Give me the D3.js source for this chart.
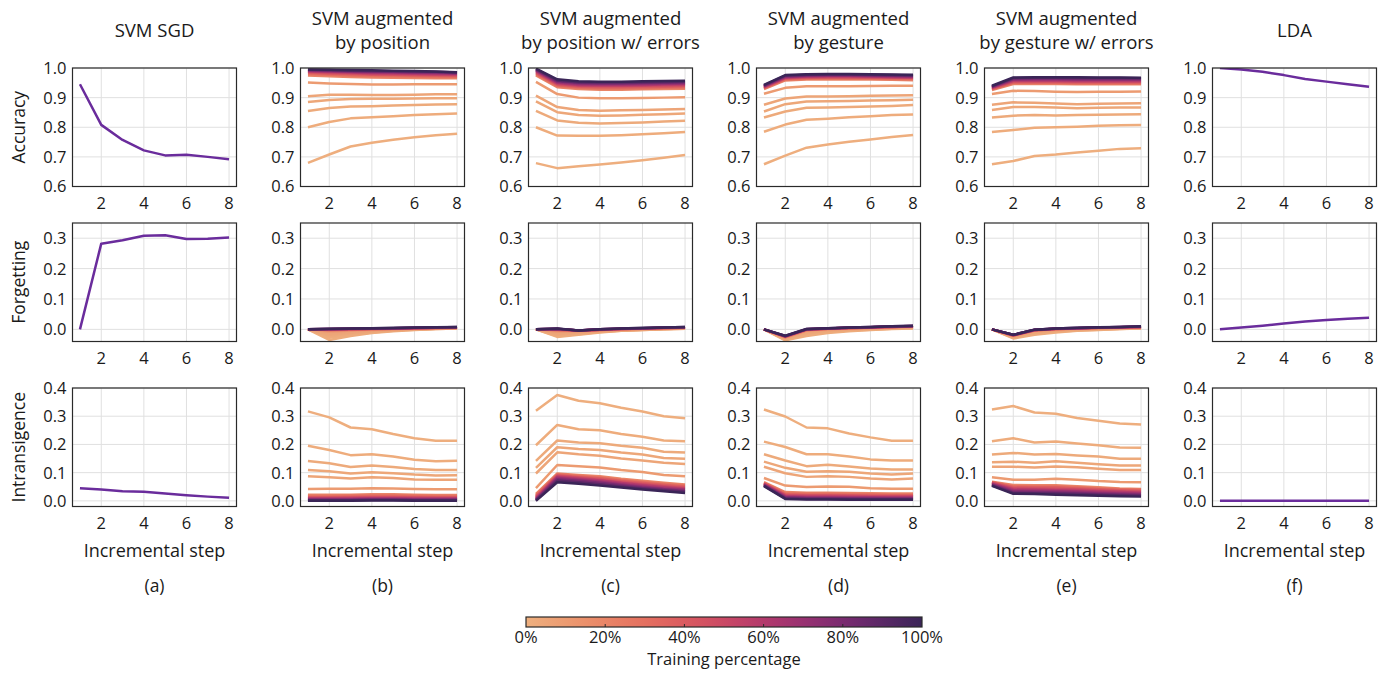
<!DOCTYPE html>
<html>
<head>
<meta charset="utf-8">
<script src="https://cdn.jsdelivr.net/npm/d3@7"></script>
<style>
body { margin: 0; background: #fff; }
text { font-family: "Open Sans", sans-serif; fill: #1a1a1a; }
</style>
</head>
<body>
<svg id="chart" width="1388" height="675"></svg>
<script>
const steps = [1, 2, 3, 4, 5, 6, 7, 8]
const trainPct = [1, 2, 3, 4, 5, 10, 20, 30, 40, 50, 60, 70, 80, 90, 100]
const titles = [["SVM SGD"], ["SVM augmented", "by position"], ["SVM augmented", "by position w/ errors"],
    ["SVM augmented", "by gesture"], ["SVM augmented", "by gesture w/ errors"], ["LDA"]]
const letters = ["(a)", "(b)", "(c)", "(d)", "(e)", "(f)"]
const metrics = ["Accuracy", "Forgetting", "Intransigence"]
const yTicks = [[0.6, 0.7, 0.8, 0.9, 1.0], [0.0, 0.1, 0.2, 0.3], [0.0, 0.1, 0.2, 0.3, 0.4]]
const xTicks = [2, 4, 6, 8]
const cbarTicks = [0, 20, 40, 60, 80, 100]

// (a) SVM SGD
const sgdAcc = [0.945, 0.808, 0.757, 0.722, 0.705, 0.707, 0.700, 0.692]
const sgdFgt = [0.0, 0.282, 0.293, 0.308, 0.310, 0.297, 0.298, 0.302]
const sgdInt = [0.045, 0.040, 0.034, 0.032, 0.026, 0.020, 0.015, 0.011]

// (f) LDA
const ldaAcc = [1.0, 0.995, 0.987, 0.976, 0.963, 0.954, 0.945, 0.937]
const ldaFgt = [0.0, 0.006, 0.012, 0.019, 0.026, 0.031, 0.035, 0.038]
const ldaInt = [0, 0, 0, 0, 0, 0, 0, 0]

// (b) augmented by position, one row per training percentage
const posAcc = [
    [0.680, 0.708, 0.735, 0.748, 0.758, 0.766, 0.773, 0.778],
    [0.800, 0.818, 0.830, 0.834, 0.837, 0.841, 0.844, 0.846],
    [0.855, 0.865, 0.870, 0.871, 0.873, 0.875, 0.877, 0.878],
    [0.885, 0.892, 0.895, 0.896, 0.896, 0.897, 0.898, 0.898],
    [0.905, 0.910, 0.910, 0.909, 0.909, 0.910, 0.911, 0.911],
    [0.951, 0.948, 0.946, 0.944, 0.944, 0.945, 0.945, 0.945],
    [0.975, 0.972, 0.970, 0.968, 0.967, 0.966, 0.965, 0.965],
    [0.980, 0.977, 0.975, 0.973, 0.972, 0.971, 0.970, 0.970],
    [0.984, 0.981, 0.979, 0.977, 0.976, 0.975, 0.974, 0.973],
    [0.987, 0.984, 0.982, 0.980, 0.979, 0.978, 0.977, 0.976],
    [0.989, 0.987, 0.985, 0.983, 0.982, 0.981, 0.980, 0.979],
    [0.991, 0.989, 0.987, 0.986, 0.985, 0.984, 0.983, 0.981],
    [0.993, 0.991, 0.989, 0.988, 0.987, 0.986, 0.985, 0.983],
    [0.994, 0.993, 0.991, 0.990, 0.989, 0.988, 0.987, 0.985],
    [0.995, 0.994, 0.993, 0.992, 0.991, 0.990, 0.988, 0.986]]
const posFgt = [
    [0, -0.035, -0.022, -0.012, -0.006, -0.002, 0.001, 0.003],
    [0, -0.028, -0.018, -0.010, -0.005, -0.001, 0.001, 0.003],
    [0, -0.022, -0.014, -0.008, -0.004, 0.000, 0.002, 0.003],
    [0, -0.018, -0.011, -0.006, -0.003, 0.000, 0.002, 0.004],
    [0, -0.014, -0.009, -0.005, -0.002, 0.001, 0.002, 0.004],
    [0, -0.008, -0.005, -0.002, 0.000, 0.002, 0.003, 0.004],
    [0, -0.004, -0.002, 0.000, 0.001, 0.003, 0.004, 0.005],
    [0, -0.002, -0.001, 0.001, 0.002, 0.003, 0.004, 0.005],
    [0, -0.001, 0.000, 0.001, 0.002, 0.004, 0.005, 0.006],
    [0, 0.000, 0.001, 0.002, 0.003, 0.004, 0.005, 0.006],
    [0, 0.000, 0.001, 0.002, 0.003, 0.004, 0.005, 0.006],
    [0, 0.001, 0.002, 0.003, 0.004, 0.005, 0.006, 0.007],
    [0, 0.001, 0.002, 0.003, 0.004, 0.005, 0.006, 0.007],
    [0, 0.001, 0.002, 0.003, 0.004, 0.005, 0.006, 0.008],
    [0, 0.002, 0.003, 0.004, 0.005, 0.006, 0.007, 0.008]]
const posInt = [
    [0.317, 0.296, 0.260, 0.254, 0.237, 0.222, 0.213, 0.213],
    [0.195, 0.180, 0.162, 0.165, 0.157, 0.146, 0.140, 0.142],
    [0.141, 0.133, 0.120, 0.125, 0.120, 0.113, 0.109, 0.109],
    [0.109, 0.105, 0.097, 0.101, 0.098, 0.093, 0.090, 0.091],
    [0.087, 0.084, 0.079, 0.084, 0.081, 0.076, 0.075, 0.075],
    [0.042, 0.043, 0.043, 0.045, 0.044, 0.042, 0.041, 0.041],
    [0.022, 0.022, 0.022, 0.023, 0.023, 0.022, 0.021, 0.021],
    [0.017, 0.017, 0.018, 0.019, 0.019, 0.018, 0.017, 0.017],
    [0.013, 0.013, 0.014, 0.015, 0.015, 0.014, 0.013, 0.013],
    [0.010, 0.010, 0.011, 0.012, 0.012, 0.011, 0.010, 0.010],
    [0.008, 0.008, 0.008, 0.009, 0.009, 0.008, 0.008, 0.008],
    [0.006, 0.006, 0.006, 0.007, 0.007, 0.006, 0.006, 0.006],
    [0.004, 0.004, 0.004, 0.005, 0.005, 0.004, 0.004, 0.004],
    [0.002, 0.002, 0.002, 0.003, 0.003, 0.002, 0.002, 0.002],
    [0.000, 0.000, 0.000, 0.001, 0.001, 0.000, 0.000, 0.000]]

// (c) augmented by position w/ errors
const posErrAcc = [
    [0.679, 0.662, 0.668, 0.674, 0.681, 0.689, 0.697, 0.706],
    [0.800, 0.772, 0.771, 0.771, 0.773, 0.776, 0.780, 0.784],
    [0.855, 0.823, 0.815, 0.813, 0.814, 0.816, 0.819, 0.822],
    [0.887, 0.851, 0.841, 0.839, 0.840, 0.842, 0.844, 0.846],
    [0.907, 0.868, 0.858, 0.856, 0.857, 0.858, 0.860, 0.862],
    [0.953, 0.912, 0.900, 0.898, 0.898, 0.899, 0.900, 0.901],
    [0.975, 0.935, 0.929, 0.927, 0.927, 0.928, 0.929, 0.930],
    [0.979, 0.939, 0.933, 0.931, 0.931, 0.932, 0.933, 0.934],
    [0.983, 0.943, 0.937, 0.935, 0.935, 0.936, 0.937, 0.938],
    [0.986, 0.946, 0.940, 0.939, 0.939, 0.940, 0.941, 0.942],
    [0.989, 0.949, 0.943, 0.942, 0.942, 0.943, 0.944, 0.945],
    [0.992, 0.952, 0.946, 0.945, 0.945, 0.946, 0.947, 0.948],
    [0.994, 0.955, 0.949, 0.948, 0.948, 0.949, 0.950, 0.951],
    [0.996, 0.958, 0.952, 0.951, 0.951, 0.952, 0.953, 0.954],
    [0.998, 0.962, 0.955, 0.954, 0.954, 0.955, 0.956, 0.957]]
const posErrFgt = [
    [0, -0.025, -0.018, -0.010, -0.005, -0.002, 0.000, 0.002],
    [0, -0.022, -0.016, -0.009, -0.005, -0.002, 0.000, 0.002],
    [0, -0.019, -0.014, -0.008, -0.004, -0.001, 0.001, 0.003],
    [0, -0.016, -0.012, -0.007, -0.003, -0.001, 0.001, 0.003],
    [0, -0.013, -0.010, -0.006, -0.003, 0.000, 0.002, 0.003],
    [0, -0.008, -0.007, -0.004, -0.001, 0.001, 0.002, 0.004],
    [0, -0.004, -0.005, -0.002, 0.000, 0.002, 0.003, 0.005],
    [0, -0.002, -0.005, -0.002, 0.001, 0.002, 0.004, 0.005],
    [0, -0.001, -0.004, -0.001, 0.001, 0.003, 0.004, 0.006],
    [0, 0.000, -0.004, -0.001, 0.001, 0.003, 0.005, 0.006],
    [0, 0.001, -0.004, -0.001, 0.002, 0.003, 0.005, 0.007],
    [0, 0.001, -0.004, 0.000, 0.002, 0.004, 0.005, 0.007],
    [0, 0.002, -0.004, 0.000, 0.002, 0.004, 0.006, 0.007],
    [0, 0.002, -0.004, 0.000, 0.003, 0.004, 0.006, 0.008],
    [0, 0.003, -0.004, 0.000, 0.003, 0.005, 0.006, 0.008]]
const posErrInt = [
    [0.319, 0.375, 0.355, 0.346, 0.330, 0.317, 0.300, 0.293],
    [0.197, 0.269, 0.254, 0.250, 0.237, 0.227, 0.214, 0.211],
    [0.142, 0.214, 0.207, 0.204, 0.195, 0.188, 0.174, 0.171],
    [0.117, 0.190, 0.184, 0.180, 0.171, 0.164, 0.152, 0.149],
    [0.097, 0.172, 0.165, 0.160, 0.150, 0.143, 0.135, 0.131],
    [0.045, 0.127, 0.123, 0.118, 0.109, 0.102, 0.092, 0.087],
    [0.025, 0.097, 0.092, 0.087, 0.078, 0.071, 0.064, 0.058],
    [0.020, 0.094, 0.088, 0.083, 0.074, 0.067, 0.060, 0.054],
    [0.016, 0.091, 0.085, 0.079, 0.070, 0.063, 0.056, 0.050],
    [0.012, 0.088, 0.082, 0.075, 0.066, 0.059, 0.052, 0.046],
    [0.009, 0.085, 0.078, 0.072, 0.063, 0.055, 0.048, 0.042],
    [0.006, 0.081, 0.075, 0.068, 0.059, 0.051, 0.044, 0.039],
    [0.004, 0.077, 0.071, 0.064, 0.055, 0.047, 0.041, 0.035],
    [0.002, 0.072, 0.066, 0.059, 0.051, 0.044, 0.038, 0.032],
    [0.000, 0.066, 0.061, 0.054, 0.047, 0.040, 0.034, 0.028]]

// (d) augmented by gesture
const gesAcc = [
    [0.675, 0.704, 0.731, 0.742, 0.751, 0.759, 0.767, 0.774],
    [0.785, 0.809, 0.825, 0.829, 0.834, 0.837, 0.841, 0.843],
    [0.833, 0.853, 0.866, 0.867, 0.868, 0.870, 0.872, 0.875],
    [0.853, 0.878, 0.887, 0.888, 0.889, 0.890, 0.891, 0.893],
    [0.876, 0.897, 0.904, 0.904, 0.905, 0.906, 0.907, 0.908],
    [0.913, 0.933, 0.938, 0.938, 0.938, 0.939, 0.940, 0.940],
    [0.929, 0.958, 0.961, 0.962, 0.961, 0.961, 0.960, 0.959],
    [0.931, 0.961, 0.964, 0.965, 0.964, 0.964, 0.963, 0.962],
    [0.933, 0.964, 0.967, 0.968, 0.967, 0.967, 0.966, 0.965],
    [0.935, 0.966, 0.969, 0.970, 0.970, 0.969, 0.968, 0.967],
    [0.937, 0.968, 0.971, 0.972, 0.972, 0.971, 0.970, 0.969],
    [0.938, 0.970, 0.973, 0.974, 0.974, 0.973, 0.972, 0.971],
    [0.940, 0.972, 0.975, 0.976, 0.976, 0.975, 0.974, 0.973],
    [0.941, 0.974, 0.977, 0.978, 0.978, 0.977, 0.976, 0.975],
    [0.943, 0.976, 0.979, 0.980, 0.980, 0.979, 0.978, 0.977]]
const gesFgt = [
    [0, -0.036, -0.022, -0.012, -0.006, -0.002, 0.001, 0.003],
    [0, -0.034, -0.018, -0.009, -0.004, -0.001, 0.002, 0.004],
    [0, -0.032, -0.014, -0.006, -0.002, 0.001, 0.003, 0.005],
    [0, -0.030, -0.011, -0.004, -0.001, 0.002, 0.004, 0.006],
    [0, -0.029, -0.008, -0.002, 0.001, 0.003, 0.005, 0.007],
    [0, -0.027, -0.005, 0.000, 0.002, 0.004, 0.006, 0.008],
    [0, -0.026, -0.003, 0.001, 0.003, 0.005, 0.007, 0.009],
    [0, -0.025, -0.002, 0.002, 0.004, 0.006, 0.008, 0.009],
    [0, -0.024, -0.001, 0.002, 0.004, 0.006, 0.008, 0.010],
    [0, -0.024, -0.001, 0.003, 0.005, 0.007, 0.008, 0.010],
    [0, -0.023, 0.000, 0.003, 0.005, 0.007, 0.009, 0.010],
    [0, -0.023, 0.000, 0.003, 0.005, 0.007, 0.009, 0.011],
    [0, -0.022, 0.000, 0.003, 0.005, 0.007, 0.009, 0.011],
    [0, -0.022, 0.001, 0.004, 0.006, 0.008, 0.010, 0.011],
    [0, -0.021, 0.001, 0.004, 0.006, 0.008, 0.010, 0.012]]
const gesInt = [
    [0.324, 0.299, 0.260, 0.257, 0.239, 0.225, 0.213, 0.213],
    [0.210, 0.191, 0.165, 0.165, 0.157, 0.147, 0.143, 0.143],
    [0.165, 0.143, 0.123, 0.128, 0.122, 0.115, 0.111, 0.111],
    [0.139, 0.117, 0.103, 0.105, 0.103, 0.097, 0.093, 0.097],
    [0.121, 0.098, 0.085, 0.087, 0.085, 0.079, 0.076, 0.079],
    [0.081, 0.054, 0.049, 0.051, 0.050, 0.045, 0.043, 0.043],
    [0.066, 0.031, 0.029, 0.029, 0.028, 0.027, 0.026, 0.026],
    [0.064, 0.027, 0.025, 0.025, 0.024, 0.023, 0.022, 0.022],
    [0.062, 0.023, 0.021, 0.021, 0.020, 0.019, 0.019, 0.019],
    [0.060, 0.020, 0.018, 0.018, 0.017, 0.016, 0.016, 0.016],
    [0.059, 0.017, 0.015, 0.015, 0.014, 0.013, 0.013, 0.013],
    [0.057, 0.014, 0.012, 0.012, 0.011, 0.011, 0.010, 0.010],
    [0.055, 0.012, 0.009, 0.009, 0.009, 0.008, 0.008, 0.008],
    [0.054, 0.009, 0.007, 0.007, 0.006, 0.006, 0.006, 0.006],
    [0.052, 0.007, 0.005, 0.005, 0.004, 0.004, 0.004, 0.004]]

// (e) augmented by gesture w/ errors
const gesErrAcc = [
    [0.675, 0.686, 0.703, 0.708, 0.715, 0.721, 0.727, 0.729],
    [0.784, 0.791, 0.798, 0.800, 0.802, 0.805, 0.807, 0.808],
    [0.833, 0.839, 0.841, 0.840, 0.841, 0.842, 0.843, 0.844],
    [0.858, 0.868, 0.868, 0.867, 0.864, 0.866, 0.867, 0.867],
    [0.876, 0.884, 0.883, 0.880, 0.878, 0.879, 0.880, 0.881],
    [0.912, 0.923, 0.922, 0.920, 0.919, 0.920, 0.920, 0.921],
    [0.926, 0.946, 0.946, 0.946, 0.945, 0.945, 0.945, 0.945],
    [0.928, 0.949, 0.949, 0.949, 0.948, 0.948, 0.948, 0.948],
    [0.930, 0.952, 0.952, 0.952, 0.951, 0.951, 0.951, 0.951],
    [0.932, 0.955, 0.955, 0.955, 0.954, 0.954, 0.954, 0.954],
    [0.934, 0.958, 0.958, 0.958, 0.957, 0.957, 0.957, 0.957],
    [0.935, 0.961, 0.961, 0.961, 0.960, 0.960, 0.960, 0.960],
    [0.937, 0.963, 0.964, 0.964, 0.963, 0.963, 0.963, 0.963],
    [0.938, 0.966, 0.967, 0.967, 0.966, 0.966, 0.966, 0.965],
    [0.940, 0.968, 0.969, 0.969, 0.969, 0.968, 0.968, 0.967]]
const gesErrFgt = [
    [0, -0.030, -0.018, -0.010, -0.005, -0.002, 0.001, 0.003],
    [0, -0.028, -0.015, -0.008, -0.004, -0.001, 0.001, 0.004],
    [0, -0.026, -0.012, -0.006, -0.002, 0.000, 0.002, 0.004],
    [0, -0.025, -0.010, -0.004, -0.001, 0.001, 0.003, 0.005],
    [0, -0.024, -0.008, -0.003, 0.000, 0.002, 0.003, 0.005],
    [0, -0.022, -0.005, -0.001, 0.002, 0.003, 0.005, 0.006],
    [0, -0.021, -0.004, 0.000, 0.003, 0.004, 0.006, 0.007],
    [0, -0.020, -0.003, 0.001, 0.003, 0.005, 0.006, 0.007],
    [0, -0.020, -0.003, 0.001, 0.003, 0.005, 0.006, 0.008],
    [0, -0.019, -0.002, 0.002, 0.004, 0.005, 0.007, 0.008],
    [0, -0.019, -0.002, 0.002, 0.004, 0.006, 0.007, 0.008],
    [0, -0.019, -0.002, 0.002, 0.004, 0.006, 0.007, 0.009],
    [0, -0.018, -0.001, 0.003, 0.004, 0.006, 0.008, 0.009],
    [0, -0.018, -0.001, 0.003, 0.005, 0.006, 0.008, 0.009],
    [0, -0.018, -0.001, 0.003, 0.005, 0.007, 0.008, 0.010]]
const gesErrInt = [
    [0.324, 0.336, 0.313, 0.309, 0.294, 0.284, 0.274, 0.271],
    [0.211, 0.222, 0.207, 0.210, 0.203, 0.197, 0.189, 0.188],
    [0.164, 0.170, 0.164, 0.166, 0.161, 0.157, 0.149, 0.149],
    [0.137, 0.139, 0.135, 0.140, 0.135, 0.130, 0.125, 0.125],
    [0.121, 0.121, 0.118, 0.122, 0.119, 0.114, 0.109, 0.109],
    [0.084, 0.075, 0.075, 0.078, 0.075, 0.070, 0.067, 0.066],
    [0.068, 0.056, 0.055, 0.055, 0.052, 0.048, 0.044, 0.042],
    [0.066, 0.052, 0.051, 0.051, 0.048, 0.044, 0.041, 0.039],
    [0.065, 0.048, 0.047, 0.047, 0.044, 0.041, 0.038, 0.036],
    [0.063, 0.044, 0.043, 0.042, 0.040, 0.037, 0.034, 0.032],
    [0.061, 0.040, 0.039, 0.038, 0.036, 0.033, 0.031, 0.029],
    [0.059, 0.036, 0.035, 0.034, 0.032, 0.029, 0.027, 0.025],
    [0.057, 0.032, 0.031, 0.030, 0.028, 0.025, 0.023, 0.022],
    [0.055, 0.028, 0.027, 0.026, 0.024, 0.022, 0.020, 0.018],
    [0.053, 0.025, 0.024, 0.022, 0.020, 0.018, 0.016, 0.015]]

// one entry per column: [accuracy, forgetting, intransigence]; single models have one line
const columns = [
    [[sgdAcc], [sgdFgt], [sgdInt]],
    [posAcc, posFgt, posInt],
    [posErrAcc, posErrFgt, posErrInt],
    [gesAcc, gesFgt, gesInt],
    [gesErrAcc, gesErrFgt, gesErrInt],
    [[ldaAcc], [ldaFgt], [ldaInt]]
]

const singleColor = "#6a2c9c"
// light orange -> red -> purple, like the colorbar
let pctColor = d3.scaleSequential(d3.interpolateRgbBasis(["#eeb07f", "#ea8563", "#df5a5c", "#b6366e", "#7b2a76", "#3a2557"]))
    .domain([0, 100])

let svg = d3.select("#chart")

let left0 = 72.5, colStep = 228, pw = 164, ph = 118.5
let rowTop = [68, 223, 388]
let yDomains = [[0.6, 1.0], [-0.04, 0.35], [-0.02, 0.4]]

let x = d3.scaleLinear().domain([0.65, 8.35]).range([0, pw])

columns.forEach(function (col, ci) {
    let cx = left0 + ci * colStep

    // column title
    let t = titles[ci]
    t.forEach(function (line, li) {
        svg.append("text")
            .attr("x", cx + pw / 2)
            .attr("y", t.length === 1 ? 37 : 25 + li * 24)
            .attr("text-anchor", "middle")
            .style("font-size", "18.5px")
            .text(line)
    })

    col.forEach(function (lines, ri) {
        let y = d3.scaleLinear().domain(yDomains[ri]).range([ph, 0])
        let g = svg.append("g").attr("transform", "translate(" + cx + "," + rowTop[ri] + ")")

        // grid
        g.selectAll(".gx").data(xTicks).enter().append("line")
            .attr("x1", d => x(d)).attr("x2", d => x(d))
            .attr("y1", 0).attr("y2", ph)
            .attr("stroke", "#e0e0e0").attr("stroke-width", 1)
        g.selectAll(".gy").data(yTicks[ri]).enter().append("line")
            .attr("x1", 0).attr("x2", pw)
            .attr("y1", d => y(d)).attr("y2", d => y(d))
            .attr("stroke", "#e0e0e0").attr("stroke-width", 1)

        let clipId = "clip" + ci + "_" + ri
        g.append("clipPath").attr("id", clipId)
            .append("rect").attr("width", pw).attr("height", ph)

        let line = d3.line()
            .x((d, i) => x(steps[i]))
            .y(d => y(d))

        g.append("g").attr("clip-path", "url(#" + clipId + ")")
            .selectAll("path")
            .data(lines)
            .enter()
            .append("path")
            .attr("d", line)
            .attr("fill", "none")
            .attr("stroke", (d, i) => lines.length === 1 ? singleColor : pctColor(trainPct[i]))
            .attr("stroke-width", 2.5)
            .attr("stroke-linejoin", "round")

        // frame
        g.append("rect")
            .attr("width", pw).attr("height", ph)
            .attr("fill", "none").attr("stroke", "#2a2a2a").attr("stroke-width", 1.2)

        // y axis labels
        g.selectAll(".yl").data(yTicks[ri]).enter().append("text")
            .attr("x", -6)
            .attr("y", d => y(d))
            .attr("dy", "0.36em")
            .attr("text-anchor", "end")
            .style("font-size", "16.5px")
            .text(d => d3.format(".1f")(d))

        // x axis labels
        g.selectAll(".xl").data(xTicks).enter().append("text")
            .attr("x", d => x(d))
            .attr("y", ph + 22)
            .attr("text-anchor", "middle")
            .style("font-size", "16.5px")
            .text(d => d)

        if (ci === 0) {
            svg.append("text")
                .attr("transform", "translate(25," + (rowTop[ri] + ph / 2) + ") rotate(-90)")
                .attr("text-anchor", "middle")
                .style("font-size", "17.5px")
                .text(metrics[ri])
        }
    })

    svg.append("text")
        .attr("x", cx + pw / 2).attr("y", 557)
        .attr("text-anchor", "middle")
        .style("font-size", "18px")
        .text("Incremental step")
    svg.append("text")
        .attr("x", cx + pw / 2).attr("y", 592)
        .attr("text-anchor", "middle")
        .style("font-size", "17.5px")
        .text(letters[ci])
})

// colorbar
let cbX = 526, cbW = 396, cbY = 617, cbH = 10
let cb = d3.scaleLinear().domain([0, 100]).range([cbX, cbX + cbW])
let defs = svg.append("defs")
let grad = defs.append("linearGradient").attr("id", "cbgrad")
d3.range(0, 101, 5).forEach(function (p) {
    grad.append("stop").attr("offset", p + "%").attr("stop-color", pctColor(p))
})
svg.append("rect")
    .attr("x", cbX).attr("y", cbY).attr("width", cbW).attr("height", cbH)
    .attr("fill", "url(#cbgrad)").attr("stroke", "#2a2a2a").attr("stroke-width", 1.2)
svg.selectAll(".cbt").data(cbarTicks.slice(1, -1)).enter().append("line")
    .attr("x1", d => cb(d)).attr("x2", d => cb(d))
    .attr("y1", cbY + cbH - 3).attr("y2", cbY + cbH)
    .attr("stroke", "#2a2a2a")
svg.selectAll(".cbl").data(cbarTicks).enter().append("text")
    .attr("x", d => cb(d)).attr("y", 643)
    .attr("text-anchor", "middle")
    .style("font-size", "16.5px")
    .text(d => d + "%")
svg.append("text")
    .attr("x", cbX + cbW / 2).attr("y", 665)
    .attr("text-anchor", "middle")
    .style("font-size", "16.5px")
    .text("Training percentage")
</script>
</body>
</html>
